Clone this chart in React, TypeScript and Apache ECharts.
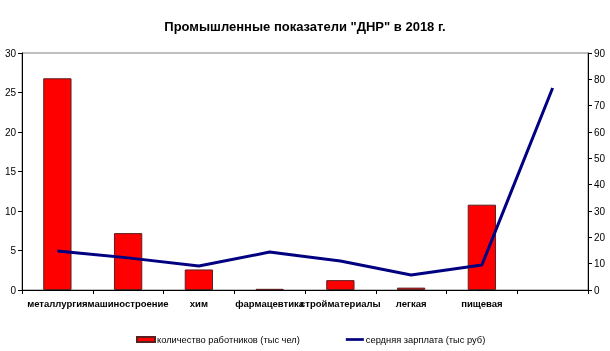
import React, { useEffect, useRef } from "react";
import * as echarts from "echarts";

const categories = ["металлургия", "машиностроение", "хим", "фармацевтика", "стройматериалы", "легкая", "пищевая", ""];
const workers = [26.8, 7.2, 2.6, 0.15, 1.25, 0.3, 10.8, null];
const salary = [14.8, 12.2, 9.1, 14.4, 11.0, 5.7, 9.5, 76.7];
const leftTicks = { min: 0, max: 30, interval: 5 };
const rightTicks = { min: 0, max: 90, interval: 10 };
const titleText = "Промышленные показатели \"ДНР\" в 2018 г.";
const seriesNames = ["количество работников (тыс чел)", "сердняя зарплата (тыс руб)"];

export default function App() {
  const ref = useRef<HTMLDivElement>(null);
  useEffect(() => {
    const chart = echarts.init(ref.current!, null, { renderer: "svg" });
    const font = "'Liberation Sans', Arial, sans-serif";
    chart.setOption({
      animation: false,
      textStyle: { fontFamily: font },
      title: {
        text: titleText,
        left: "center",
        top: 15,
        textStyle: { fontSize: 13, fontWeight: "bold", color: "#000", fontFamily: font },
      },
      grid: { left: 22, right: 22, top: 53, bottom: 61, show: true, borderColor: "#808080", borderWidth: 1 },
      legend: {
        bottom: 7,
        left: 136,
        padding: 0,
        itemWidth: 18,
        itemHeight: 5,
        itemGap: 46,
        textStyle: { fontSize: 9.3, color: "#000", fontFamily: font, padding: [0, 0, 0, -3] },
        data: [
          { name: seriesNames[0], icon: "rect" },
          { name: seriesNames[1], icon: "path://M0,0H20V3H0Z" },
        ],
      },
      xAxis: {
        type: "category",
        data: categories,
        axisLine: { lineStyle: { color: "#000", width: 1 } },
        axisTick: { show: true, alignWithLabel: false, length: 4, lineStyle: { color: "#000" } },
        axisLabel: { interval: 0, fontSize: 9.5, color: "#000", fontWeight: "bold", margin: 8, fontFamily: font },
      },
      yAxis: [
        {
          type: "value",
          ...leftTicks,
          position: "left",
          axisLine: { show: true, lineStyle: { color: "#000" } },
          axisTick: { show: true, length: 4, lineStyle: { color: "#000" } },
          axisLabel: { fontSize: 10, color: "#000", margin: 6, fontFamily: font },
          splitLine: { show: false },
        },
        {
          type: "value",
          ...rightTicks,
          position: "right",
          axisLine: { show: true, lineStyle: { color: "#000" } },
          axisTick: { show: true, length: 4, lineStyle: { color: "#000" } },
          axisLabel: { fontSize: 10, color: "#000", margin: 6, fontFamily: font },
          splitLine: { show: false },
        },
      ],
      series: [
        {
          name: seriesNames[0],
          type: "bar",
          data: workers,
          yAxisIndex: 0,
          barWidth: "40%",
          itemStyle: { color: "#FF0000", borderColor: "#5a2020", borderWidth: 1 },
        },
        {
          name: seriesNames[1],
          type: "line",
          data: salary,
          yAxisIndex: 1,
          symbol: "none",
          showSymbol: false,
          lineStyle: { color: "#000080", width: 3 },
          itemStyle: { color: "#000080" },
          z: 5,
        },
      ],
    });
    return () => chart.dispose();
  }, []);
  return <div ref={ref} style={{ position: "fixed", left: 0, top: 0, width: 610, height: 351 }} />;
}
